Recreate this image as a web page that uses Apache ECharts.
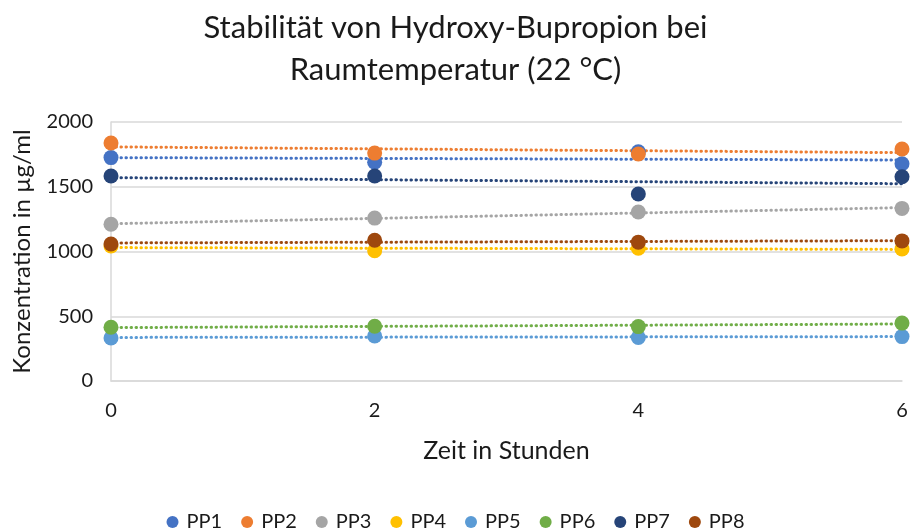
<!DOCTYPE html>
<html>
<head>
<meta charset="utf-8">
<script src="https://cdn.jsdelivr.net/npm/echarts@6/dist/echarts.min.js"></script>
<style>
  html, body { margin: 0; padding: 0; background: #fff; }
  #chart { width: 911px; height: 531px; }
</style>
</head>
<body>
<div id="chart"></div>
<script>
// Messzeitpunkte (Stunden)
const hours = [0, 2, 4, 6];
const xTicks = [0, 2, 4, 6];
const yTicks = [0, 500, 1000, 1500, 2000];

const names = ["PP1", "PP2", "PP3", "PP4", "PP5", "PP6", "PP7", "PP8"];
const PP1 = [1725, 1690, 1770, 1678];
const PP2 = [1838, 1760, 1753, 1791];
const PP3 = [1210, 1258, 1305, 1333];
const PP4 = [1042, 1006, 1025, 1020];
const PP5 = [332, 348, 336, 343];
const PP6 = [415, 423, 420, 447];
const PP7 = [1583, 1583, 1444, 1577];
const PP8 = [1058, 1087, 1072, 1082];

const colors = ["#4472C4", "#ED7D31", "#A5A5A5", "#FFC000", "#5B9BD5", "#70AD47", "#264478", "#9E480E"];
const FONT = "Lato, 'Open Sans', sans-serif";
const TXT = "#1a1a1a";

// lineare Trendlinie (kleinste Quadrate)
function trend(ys) {
  const n = hours.length;
  const mx = hours.reduce((a, b) => a + b, 0) / n;
  const my = ys.reduce((a, b) => a + b, 0) / n;
  let sxy = 0, sxx = 0;
  for (let i = 0; i < n; i++) {
    sxy += (hours[i] - mx) * (ys[i] - my);
    sxx += (hours[i] - mx) * (hours[i] - mx);
  }
  const k = sxy / sxx;
  const x0 = hours[0], x1 = hours[n - 1];
  return [[x0, my + k * (x0 - mx)], [x1, my + k * (x1 - mx)]];
}

(function () {
  const myChart = echarts.init(document.getElementById("chart"));
  const allData = [PP1, PP2, PP3, PP4, PP5, PP6, PP7, PP8];

  const series = [];
  allData.forEach((d, i) => {
    series.push({
      name: names[i] + " Trend",
      type: "line",
      data: trend(d),
      symbol: "none",
      silent: true,
      z: 2,
      lineStyle: {
        color: colors[i],
        width: 3,
        type: [0.5, 4.5],
        cap: "round"
      }
    });
  });
  allData.forEach((d, i) => {
    series.push({
      name: names[i],
      type: "scatter",
      data: d.map((v, j) => [hours[j], v]),
      symbol: "circle",
      symbolSize: 15,
      z: 3,
      itemStyle: { color: colors[i], opacity: 1 }
    });
  });

  const option = {
    animation: false,
    textStyle: { fontFamily: FONT },
    color: colors,
    title: {
      text: "Stabilität von Hydroxy-Bupropion bei\nRaumtemperatur (22 °C)",
      left: "center",
      top: 2,
      textStyle: {
        fontFamily: FONT,
        fontSize: 31,
        fontWeight: "normal",
        color: TXT,
        lineHeight: 42
      }
    },
    legend: {
      data: names,
      top: 507,
      left: "center",
      icon: "circle",
      itemWidth: 12,
      itemHeight: 12,
      itemGap: 19,
      textStyle: { fontFamily: FONT, fontSize: 20, color: TXT, padding: [0, 0, 0, 3] }
    },
    grid: {
      left: 111,
      right: 9,
      top: 122,
      bottom: 150
    },
    xAxis: {
      type: "value",
      min: 0,
      max: 6,
      interval: 2,
      name: "Zeit in Stunden",
      nameLocation: "middle",
      nameGap: 57,
      nameTextStyle: { fontFamily: FONT, fontSize: 25, color: TXT },
      axisLine: { show: true, lineStyle: { color: "#D9D9D9", width: 1.5 } },
      axisTick: { show: false },
      splitLine: { show: false },
      axisLabel: {
        color: TXT,
        fontSize: 20,
        margin: 20,
        formatter: v => xTicks.includes(v) ? String(v) : ""
      }
    },
    yAxis: {
      type: "value",
      min: 0,
      max: 2000,
      interval: 500,
      name: "Konzentration in µg/ml",
      nameLocation: "middle",
      nameGap: 77,
      nameTextStyle: { fontFamily: FONT, fontSize: 24, color: TXT },
      axisLine: { show: true, lineStyle: { color: "#D9D9D9", width: 1.5 } },
      axisTick: { show: false },
      splitLine: { lineStyle: { color: "#D9D9D9", width: 1.5 } },
      axisLabel: {
        color: TXT,
        fontSize: 20,
        margin: 18,
        formatter: v => yTicks.includes(v) ? String(v) : ""
      }
    },
    series: series
  };
  myChart.setOption(option);

  window.addEventListener("resize", () => {
    myChart.resize();
  });
})();
</script>
</body>
</html>
